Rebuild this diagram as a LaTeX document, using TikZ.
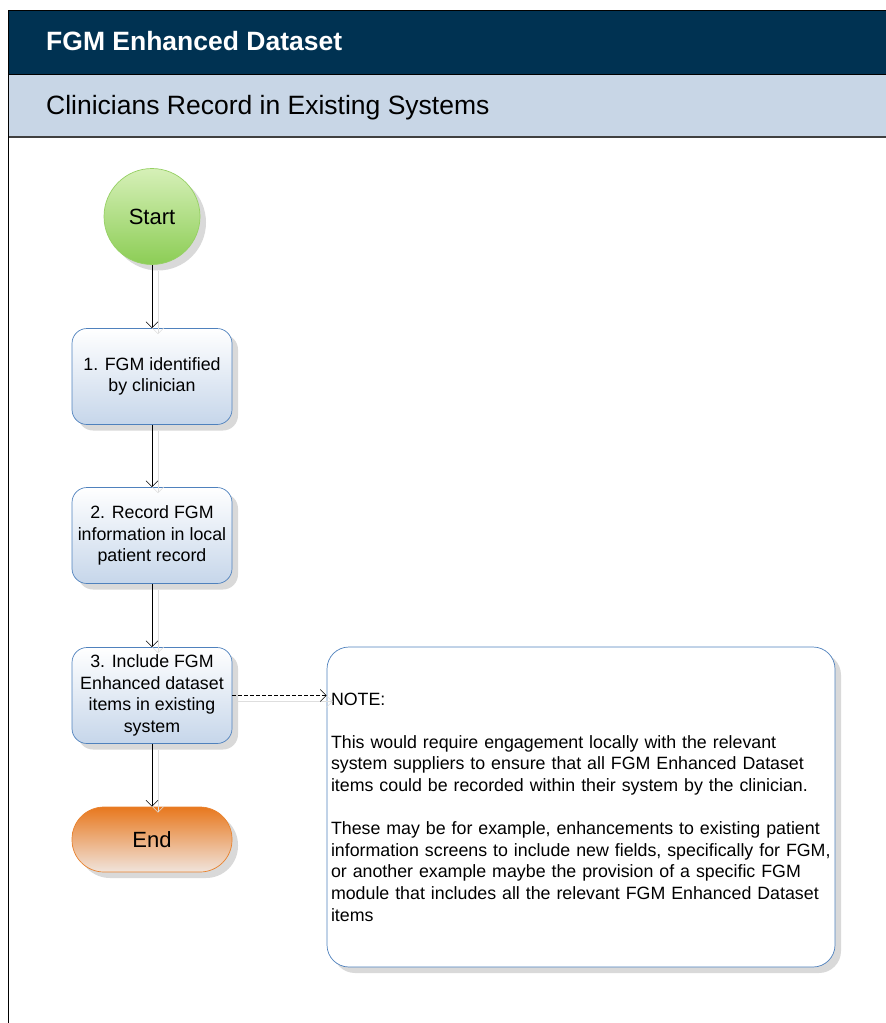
\documentclass[tikz,border=0pt]{standalone}
\usepackage{fontspec}
\setmainfont{Liberation Sans}
\usepackage{tikz}
\usetikzlibrary{arrows.meta,shadows}
\usepackage{xcolor}
\definecolor{hdrdark}{RGB}{0,50,82}
\definecolor{hdrlight}{RGB}{200,214,230}
\definecolor{boxline}{RGB}{79,129,189}
\definecolor{boxlow}{RGB}{198,214,234}
\definecolor{startline}{RGB}{150,208,100}
\definecolor{starttop}{RGB}{214,240,184}
\definecolor{startlow}{RGB}{140,205,85}
\definecolor{endline}{RGB}{232,130,46}
\definecolor{endtop}{RGB}{232,120,30}
\definecolor{endlow}{RGB}{240,228,220}

\begin{document}
\begin{tikzpicture}[x=1pt,y=-1pt,>={Straight Barb[length=6pt,width=12pt]},
  font=\fontsize{17.8}{21.6}\selectfont,
  shad/.style={drop shadow={shadow xshift=6pt,shadow yshift=-6pt,fill=black!15,opacity=1}},
  stepbox/.style={draw=boxline,line width=0.7pt,rounded corners=15pt,minimum width=160pt,
    minimum height=96pt,inner sep=0pt,align=center,top color=white,bottom color=boxlow,shad},
  conn/.style={->,line width=0.6pt,preaction={draw=black!13,transform canvas={shift={(6pt,-6pt)}}}}]
\useasboundingbox (0,0) rectangle (886,1023);
% header bands
\fill[hdrdark] (8,10) rectangle (886,74);
\fill[hdrlight] (8,74) rectangle (886,137);
\draw[line width=0.8pt] (8,74)--(886,74);
\draw[black!75,line width=2.5pt] (8,137)--(886,137);
\draw[line width=0.8pt] (8,1023)--(8,10)--(886,10);
\node[anchor=base west,inner sep=0pt,text=white,font=\fontsize{26.5}{30}\selectfont\bfseries] (title) at (46,50) {FGM Enhanced Dataset};
\node[anchor=base west,inner sep=0pt,font=\fontsize{26.5}{30}\selectfont] (lane) at (46,114) {Clinicians Record in Existing Systems};
% flow
\node[circle,draw=startline,line width=0.7pt,minimum size=96pt,inner sep=0pt,
  top color=starttop,bottom color=startlow,shad,font=\fontsize{22}{26}\selectfont] (start) at (152,216.5) {Start};
\node[stepbox] (s1) at (152,376.5) {1. FGM identified\\by clinician};
\node[stepbox] (s2) at (152,535.5) {2. Record FGM\\information in local\\patient record};
\node[stepbox] (s3) at (152,695.5) {3. Include FGM\\Enhanced dataset\\items in existing\\system};
\node[draw=endline,line width=0.7pt,rounded corners=32pt,minimum width=160pt,minimum height=65pt,
  top color=endtop,bottom color=endlow,shad,font=\fontsize{22}{26}\selectfont] (end) at (152,839.5) {End};
\node[draw=boxline,line width=0.7pt,rounded corners=22pt,fill=white,shad,minimum width=508pt,
  minimum height=320pt,text width=500pt,inner xsep=4pt,align=left] (note) at (581,807)
  {NOTE:\\[21.6pt]
  This would require engagement locally with the relevant\\
  system suppliers to ensure that all FGM Enhanced Dataset\\
  items could be recorded within their system by the clinician.\\[21.6pt]
  These may be for example, enhancements to existing patient\\
  information screens to include new fields, specifically for FGM,\\
  or another example maybe the provision of a specific FGM\\
  module that includes all the relevant FGM Enhanced Dataset\\
  items};
\draw[conn] (start) -- (s1);
\draw[conn] (s1) -- (s2);
\draw[conn] (s2) -- (s3);
\draw[conn] (s3) -- (end);
\draw[conn,dash pattern=on 4pt off 2pt] (s3.east) -- (s3.east -| note.west);
\end{tikzpicture}
\end{document}
